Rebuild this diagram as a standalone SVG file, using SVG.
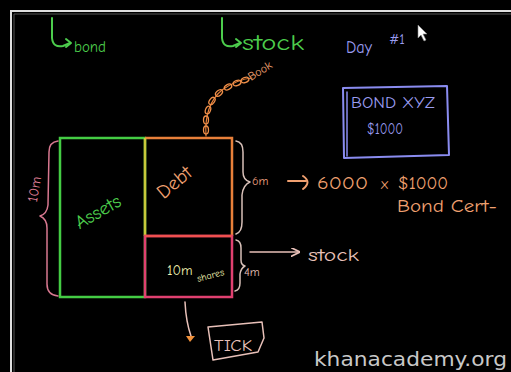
<svg xmlns="http://www.w3.org/2000/svg" width="511" height="372" viewBox="0 0 511 372">
<defs>
<style>
.hand{font-family:"Comic Neue","DejaVu Sans","Liberation Sans",sans-serif;}
.ln{fill:none;stroke-linecap:round;stroke-linejoin:round;}
.green{fill:#4ccc4c;}
.orange{fill:#f0a070;}
.purple{fill:#9a9cf0;}
.pinkw{fill:#e8c0b8;}
</style>
<marker id="ah" viewBox="0 0 10 10" refX="8" refY="5" markerWidth="6" markerHeight="6" orient="auto">
<path d="M0,0 L10,5 L0,10" fill="none" stroke="context-stroke" stroke-width="2"/>
</marker>
</defs>
<rect x="0" y="0" width="511" height="372" fill="#000"/>
<path d="M11,372 L11,11 L511,11" fill="none" stroke="#e0e0e0" stroke-width="2"/>
<path d="M14,372 L14,14 L511,14" fill="none" stroke="#555" stroke-width="1"/>

<g id="bond-label">
<path class="ln" d="M52,18 L52,38 Q53,48 63,46 L70,43" stroke="#4ccc4c" stroke-width="2"/>
<path class="ln" d="M66,39 L71,43 L66,47" stroke="#4ccc4c" stroke-width="2"/>
<text x="74" y="52" class="hand green" font-size="15" textLength="32" lengthAdjust="spacingAndGlyphs">bond</text>
</g>
<g id="stock-label">
<path class="ln" d="M222,18 L222,38 Q223,48 233,46 L240,43" stroke="#4ccc4c" stroke-width="2"/>
<path class="ln" d="M236,39 L241,43 L236,47" stroke="#4ccc4c" stroke-width="2"/>
<text x="242" y="50" class="hand green" font-size="22" textLength="62" lengthAdjust="spacingAndGlyphs">stock</text>
</g>
<g id="day-label">
<text x="346" y="53" class="hand purple" font-size="17" textLength="26" lengthAdjust="spacingAndGlyphs">Day</text>
<text x="389" y="44" class="hand purple" font-size="14">#1</text>
<path d="M418,25 L418,38 L421,35 L424,41 L426,40 L423,34 L427,34 Z" fill="#fff" stroke="#888" stroke-width="0.6"/>
</g>
<g id="bond-xyz">
<path class="ln" d="M343,88 L447,86 L449,155 L344,158 Z" stroke="#8a8cf0" stroke-width="2"/>
<path class="ln" d="M347,92 L347,156" stroke="#8a8cf0" stroke-width="1.5"/>
<text x="351" y="108" class="hand purple" font-size="16" textLength="84" lengthAdjust="spacingAndGlyphs">BOND XYZ</text>
<text x="367" y="134" class="hand purple" font-size="16" textLength="36" lengthAdjust="spacingAndGlyphs">$1000</text>
</g>

<g id="book">
<path class="ln" d="M206,136 Q204,105 222,90 Q238,79 252,78" stroke="#e8803a" stroke-width="1.2"/>
<g fill="none" stroke="#f0904a" stroke-width="1.3">
<ellipse cx="206" cy="130" rx="2.5" ry="4"/>
<ellipse cx="206" cy="120" rx="2.5" ry="4"/>
<ellipse cx="208" cy="110" rx="2.5" ry="4" transform="rotate(20 208 110)"/>
<ellipse cx="212" cy="101" rx="2.5" ry="4" transform="rotate(35 212 101)"/>
<ellipse cx="219" cy="93" rx="2.5" ry="4" transform="rotate(50 219 93)"/>
<ellipse cx="228" cy="87" rx="2.5" ry="4" transform="rotate(60 228 87)"/>
<ellipse cx="237" cy="83" rx="2.5" ry="4" transform="rotate(70 237 83)"/>
<ellipse cx="245" cy="80" rx="2.5" ry="4" transform="rotate(70 245 80)"/>
</g>
<text x="251" y="81" class="hand orange" font-size="12" transform="rotate(-32 251 81)">Book</text>
</g>

<g id="assets">
<rect x="60" y="138" width="85" height="159" fill="none" stroke="#44cc44" stroke-width="2.5"/>
<text x="98" y="218" class="hand green" font-size="19" text-anchor="middle" transform="rotate(-30 98 212)">Assets</text>
</g>
<g id="debt">
<path d="M145,138 L232,138 L232,236" fill="none" stroke="#e8803a" stroke-width="2.5"/>
<path d="M145,138 L145,236" fill="none" stroke="#c8c83a" stroke-width="2.5"/>
<text x="174" y="189" class="hand orange" font-size="20" text-anchor="middle" transform="rotate(-40 174 182)">Debt</text>
</g>
<g id="equity">
<rect x="145" y="236" width="87" height="61" fill="none" stroke="#e04070" stroke-width="2.5"/>
<path d="M145,236 L232,236" stroke="#f05050" stroke-width="2.5"/>
<text x="167" y="275" class="hand" fill="#f0f0b0" font-size="14">10m</text>
<text x="198" y="282" class="hand" fill="#f0f0b0" font-size="10" transform="rotate(-15 198 282)">shares</text>
</g>

<g id="left-brace">
<path class="ln" d="M58,141 Q49,142 49,152 L48,205 Q47,214 40,216 Q47,219 47,228 L47,284 Q47,295 58,296" stroke="#d87890" stroke-width="1.5"/>
<text x="39" y="190" class="hand" fill="#e08098" font-size="14" text-anchor="middle" transform="rotate(-80 39 190)">10m</text>
</g>
<g id="debt-brace">
<path class="ln" d="M236,141 Q243,142 243,152 L243,172 Q243,180 250,182 Q243,185 242,195 L242,222 Q242,232 236,234" stroke="#d8c0b8" stroke-width="1.5"/>
<text x="252" y="185" class="hand" fill="#f0a080" font-size="12">6m</text>
</g>
<g id="equity-brace">
<path class="ln" d="M236,240 Q241,241 241,248 L241,260 Q241,265 245,266 Q241,268 240,274 L240,283 Q240,290 235,291" stroke="#d8c0b8" stroke-width="1.5"/>
<text x="244" y="276" class="hand pinkw" font-size="12">4m</text>
</g>

<g id="connectors">
<path class="ln" d="M288,181 L306,181" stroke="#f0a070" stroke-width="2"/>
<path class="ln" d="M303,176 Q312,182 303,189" stroke="#f0a070" stroke-width="2"/>
<path class="ln" d="M250,252 L298,252" stroke="#e8c0b8" stroke-width="1.5" marker-end="url(#ah)"/>
<path class="ln" d="M185,302 Q186,322 191,336" stroke="#e8c0b8" stroke-width="1.5"/>
<path d="M186,336 L195,336 L190,342 Z" fill="#f0903a"/>
</g>

<g id="bond-cert">
<text x="317" y="189" class="hand orange" font-size="19" textLength="51" lengthAdjust="spacingAndGlyphs">6000</text>
<text x="381" y="189" class="hand orange" font-size="15">x</text>
<text x="398" y="189" class="hand orange" font-size="19" textLength="50" lengthAdjust="spacingAndGlyphs">$1000</text>
<text x="397" y="212" class="hand orange" font-size="19" textLength="100" lengthAdjust="spacingAndGlyphs">Bond Cert-</text>
</g>
<g id="stock-text">
<text x="308" y="261" class="hand pinkw" font-size="18" textLength="51" lengthAdjust="spacingAndGlyphs">stock</text>
</g>
<g id="tick">
<path class="ln" d="M208,327 L262,322 L264,338 L258,352 L213,360 Z" stroke="#e8c0b8" stroke-width="1.5"/>
<text x="214" y="351" class="hand pinkw" font-size="16" textLength="38" lengthAdjust="spacingAndGlyphs">TICK</text>
</g>

<text x="314" y="366" font-family="DejaVu Sans, sans-serif" font-size="20" fill="#c8c8c8" textLength="193" lengthAdjust="spacingAndGlyphs">khanacademy.org</text>
</svg>
